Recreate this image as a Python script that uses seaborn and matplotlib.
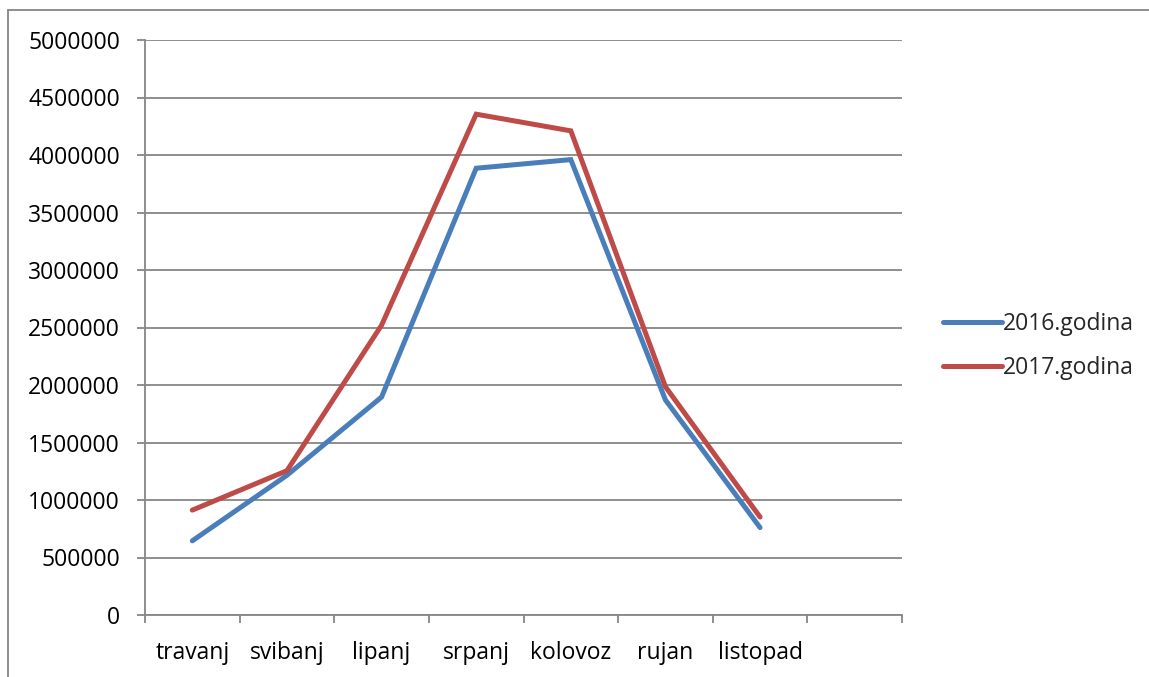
import numpy as np
import pandas as pd
import seaborn as sns
from matplotlib import pyplot as plt
from matplotlib.lines import Line2D

sns.set_style('white')
plt.rcParams['font.family'] = ['Open Sans', 'DejaVu Sans']

months = ['travanj', 'svibanj', 'lipanj', 'srpanj', 'kolovoz', 'rujan', 'listopad']
y2016 = [645000, 1215000, 1895000, 3885000, 3960000, 1870000, 760000]
y2017 = [912000, 1255000, 2520000, 4355000, 4210000, 1985000, 852000]
series = ['2016.godina', '2017.godina']
colors = ['#4A7EBB', '#BE4B48']

df = pd.DataFrame({'mjesec': months * 2,
                   'pos': list(range(len(months))) * 2,
                   'vrijednost': y2016 + y2017,
                   'godina': [series[0]] * 7 + [series[1]] * 7})

W, H = 1149, 677
fig = plt.figure(figsize=(W / 100, H / 100), dpi=100)
ax = fig.add_axes([145 / W, 1 - 615 / H, (902 - 145) / W, (615 - 40) / H])

sns.lineplot(data=df, x='pos', y='vrijednost', hue='godina', palette=colors,
             linewidth=3.6, ax=ax, legend=False, solid_capstyle='round',
             solid_joinstyle='miter')

# 8 category slots, the last one is empty
ncat = 8
ax.set_xlim(-0.5, ncat - 0.5)
ax.set_ylim(0, 5000000)
ax.set_yticks(np.arange(0, 5000001, 500000))
ax.set_yticklabels([str(v) for v in np.arange(0, 5000001, 500000)])
ax.set_xticks(np.arange(-0.5, ncat, 1.0))
ax.set_xticklabels([])
ax.set_xticks(range(len(months)), minor=True)
ax.set_xticklabels(months, minor=True)
ax.tick_params(axis='both', which='both', labelsize=16.5, labelcolor='black')
ax.tick_params(axis='x', which='minor', length=0, pad=19, bottom=True)
ax.tick_params(axis='x', which='major', length=6, width=1.3, color='#868686',
               direction='out', bottom=True)
ax.tick_params(axis='y', length=6, width=1.3, color='#868686', direction='out',
               pad=12, left=True)
ax.set_xlabel('')
ax.set_ylabel('')

ax.yaxis.grid(True, color='#868686', linewidth=1.3)
ax.xaxis.grid(False)
ax.set_axisbelow(True)
for s in ['top', 'right']:
    ax.spines[s].set_visible(False)
for s in ['left', 'bottom']:
    ax.spines[s].set_color('#868686')
    ax.spines[s].set_linewidth(1.3)

handles = [Line2D([], [], color=c, linewidth=3.6, solid_capstyle='round') for c in colors]
fig.legend(handles, series, loc='center left', bbox_to_anchor=(922 / W, 1 - 346 / H),
           frameon=False, fontsize=16.5, handlelength=2.6, handletextpad=0.05,
           labelspacing=0.85)

# outer chart frame (top and left edges visible)
fig.add_artist(Line2D([8 / W, 1], [1 - 10 / H, 1 - 10 / H], color='#868686', linewidth=1.3))
fig.add_artist(Line2D([8 / W, 8 / W], [0, 1 - 10 / H], color='#868686', linewidth=1.3))

fig.savefig('out.png', dpi=100)
